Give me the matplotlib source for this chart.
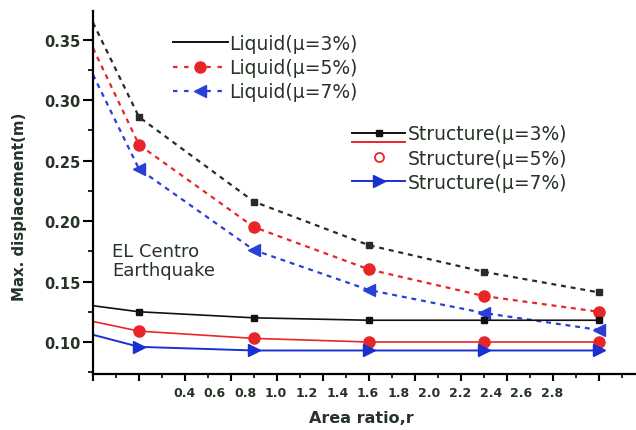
import matplotlib
matplotlib.use("Agg")
from matplotlib import pyplot as plt
from matplotlib.lines import Line2D
from matplotlib.legend_handler import HandlerLine2D, HandlerTuple
from matplotlib.transforms import blended_transform_factory
import numpy as np

# area ratio positions (first point sits on the left spine)
r = [0.0, 0.2, 0.7, 1.2, 1.7, 2.2]

liquid_3 = [0.364, 0.286, 0.216, 0.180, 0.158, 0.141]
liquid_5 = [0.343, 0.263, 0.195, 0.160, 0.138, 0.125]
liquid_7 = [0.321, 0.243, 0.176, 0.143, 0.124, 0.110]

struct_3 = [0.130, 0.125, 0.120, 0.118, 0.118, 0.118]
struct_5 = [0.117, 0.109, 0.103, 0.100, 0.100, 0.100]
struct_7 = [0.106, 0.096, 0.093, 0.093, 0.093, 0.093]

x_labels = ["0.4", "0.6", "0.8", "1.0", "1.2", "1.4", "1.6",
            "1.8", "2.0", "2.2", "2.4", "2.6", "2.8"]

txt_col = "#263326"


class LineShifted(HandlerLine2D):
    """Handle dibujado un poco mas abajo (linea roja bajo la negra)."""
    def create_artists(self, legend, orig_handle, xdescent, ydescent,
                       width, height, fontsize, trans):
        return super().create_artists(legend, orig_handle, xdescent,
                                      ydescent + 14, width, height,
                                      fontsize, trans)


fig = plt.figure(figsize=(6.36, 4.31), dpi=100)
ax = fig.add_axes([0.1462, 0.1299, 0.8538, 0.8422])

dash = (0, (2.2, 2.2))
mk = slice(1, None)

ax.plot(r, liquid_3, color="#2a2a2a", lw=1.6, ls=dash, marker="s",
        ms=5, markevery=mk)
ax.plot(r, liquid_5, color="#e8262a", lw=1.6, ls=dash, marker="o",
        ms=8, markevery=mk)
ax.plot(r, liquid_7, color="#2a3fd8", lw=1.6, ls=dash, marker="<",
        ms=8, markevery=mk)

ax.plot(r, struct_3, color="#111111", lw=1.2, marker="s", ms=5, markevery=mk)
ax.plot(r, struct_5, color="#e8262a", lw=1.2, marker="o", ms=8, markevery=mk)
ax.plot(r, struct_7, color="#1a2fd0", lw=1.4, marker=">", ms=8, markevery=mk)

ax.set_xlim(0, 2.361)
ax.set_ylim(0.07355, 0.3736)

ax.spines["top"].set_visible(False)
ax.spines["right"].set_visible(False)
for s in ("left", "bottom"):
    ax.spines[s].set_linewidth(1.6)

ax.set_xticks(np.arange(0, 2.4, 0.2))
ax.set_xticks(np.arange(0.1, 2.4, 0.2), minor=True)
ax.set_xticklabels([])
ax.set_yticks([0.10, 0.15, 0.20, 0.25, 0.30, 0.35])
ax.set_yticks([0.075, 0.125, 0.175, 0.225, 0.275, 0.325], minor=True)
ax.set_yticklabels(["0.10", "0.15", "0.20", "0.25", "0.30", "0.35"],
                   fontsize=10.5, fontweight="bold", color=txt_col)
ax.tick_params(which="major", direction="out", length=5, width=1.5)
ax.tick_params(which="minor", direction="out", length=3, width=1.2)
ax.tick_params(axis="y", which="major", length=7, pad=2)
ax.tick_params(axis="y", which="minor", length=3.5)

# etiquetas del eje x desplazadas como en la figura original
tr = blended_transform_factory(ax.transData, ax.transAxes)
for lab in x_labels:
    v = float(lab)
    ax.text(0.396 + (v - 0.4) * 2 / 3, -0.05, lab, transform=tr,
            ha="center", va="center", fontsize=9, fontweight="bold",
            color=txt_col)

ax.text(0.495, -0.121, "Area ratio,r", transform=ax.transAxes, ha="center",
        va="center", fontsize=11.5, fontweight="bold", color=txt_col)
fig.text(0.03, 0.52, "Max. displacement(m)", rotation=90, ha="center",
         va="center", fontsize=10.8, fontweight="bold", color=txt_col)

ax.text(0.035, 0.364, "EL Centro\nEarthquake", transform=ax.transAxes,
        ha="left", va="top", fontsize=13, color=txt_col, linespacing=1.05)

# leyenda liquido
h_l3 = Line2D([], [], color="#111111", lw=1.4)
h_l5 = Line2D([], [], color="#e8262a", lw=1.6, ls=(0, (2, 3)), marker="o", ms=8)
h_l7 = Line2D([], [], color="#2a3fd8", lw=1.6, ls=(0, (2, 3)), marker="<", ms=8)
leg1 = ax.legend([h_l3, h_l5, h_l7],
                 ["Liquid(\u03bc=3%)", "Liquid(\u03bc=5%)", "Liquid(\u03bc=7%)"],
                 loc="upper left", bbox_to_anchor=(0.147, 0.937),
                 frameon=False, fontsize=13.5, handlelength=2.93,
                 handletextpad=0.1, labelspacing=0.28, borderpad=0,
                 borderaxespad=0, labelcolor=txt_col)
ax.add_artist(leg1)

# leyenda estructura
h_s3 = Line2D([], [], color="#111111", lw=1.4, marker="s", ms=5)
h_red = Line2D([], [], color="#e8262a", lw=1.4)
h_s5 = Line2D([], [], color="#e8262a", lw=0, marker="o", ms=6.5,
              mfc="none", mew=1.3)
h_s7 = Line2D([], [], color="#1a2fd0", lw=1.4, marker=">", ms=8)
ax.legend([(h_s3, h_red), h_s5, h_s7],
          ["Structure(\u03bc=3%)", "Structure(\u03bc=5%)", "Structure(\u03bc=7%)"],
          handler_map={tuple: HandlerTuple(ndivide=1, pad=0),
                       h_red: LineShifted()},
          loc="upper left", bbox_to_anchor=(0.477, 0.688),
          frameon=False, fontsize=13.5, handlelength=2.83,
          handletextpad=0.16, labelspacing=0.28, borderpad=0,
          borderaxespad=0, labelcolor=txt_col)

fig.savefig("out.png", dpi=100)
